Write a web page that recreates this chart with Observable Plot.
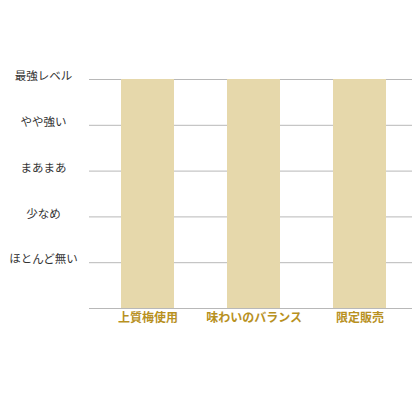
<!DOCTYPE html>
<html>
<head>
<meta charset="utf-8">
<script src="https://cdn.jsdelivr.net/npm/d3@7"></script>
<script src="https://cdn.jsdelivr.net/npm/@observablehq/plot@0.6"></script>
<style>
  html, body { margin: 0; padding: 0; background: #fff; }
  #chart svg { display: block; }
</style>
</head>
<body>
<div id="chart"></div>
<script>
const categories = ["上質梅使用", "味わいのバランス", "限定販売"];
const values = [5, 5, 5];
const levelTicks = [1, 2, 3, 4, 5];
const levelLabels = ["ほとんど無い", "少なめ", "まあまあ", "やや強い", "最強レベル"];
const gridValues = [0, 1, 2, 3, 4, 5];

const data = categories.map((c, i) => ({category: c, value: values[i]}));

const chart = Plot.plot({
  width: 420,
  height: 420,
  marginTop: 79,
  marginBottom: 112,
  marginLeft: 89,
  marginRight: 8,
  style: {fontFamily: "'Noto Sans CJK JP', sans-serif", background: "#fff"},
  x: {domain: categories, range: [93, 413], paddingInner: 0.5, paddingOuter: 0.25, align: 0.5},
  y: {domain: [0, 5]},
  marks: [
    Plot.ruleY(gridValues, {stroke: "#b8b8b8", strokeWidth: 1}),
    Plot.barY(data, {x: "category", y: "value", fill: "#e6d8ab"}),
    Plot.axisY({
      ticks: levelTicks,
      tickFormat: d => levelLabels[d - 1],
      tickSize: 0,
      textAnchor: "middle",
      dx: -37,
      dy: -3,
      fontSize: 11.5,
      fill: "#333",
      label: null
    }),
    Plot.axisX({
      tickSize: 0,
      tickPadding: 5,
      fontSize: 12,
      fontWeight: "bold",
      fill: "#b8911f",
      label: null
    })
  ]
});
document.getElementById("chart").appendChild(chart);
</script>
</body>
</html>
